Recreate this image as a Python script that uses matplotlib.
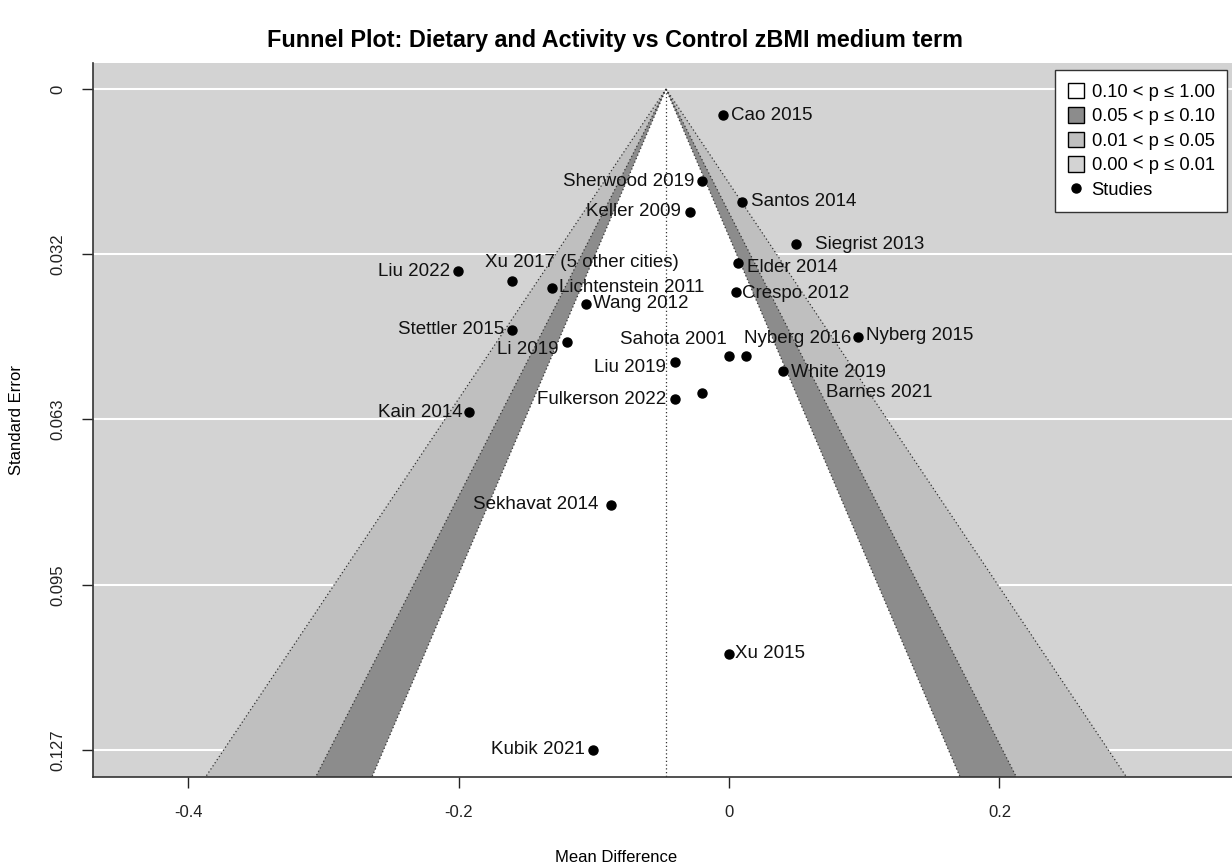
import numpy as np
import matplotlib.pyplot as plt
from matplotlib.patches import Patch
from matplotlib.lines import Line2D

plt.rcParams['font.family'] = ['Liberation Sans', 'DejaVu Sans']

# Study data
studies = ['Cao 2015', 'Sherwood 2019', 'Santos 2014', 'Keller 2009', 'Siegrist 2013',
           'Elder 2014', 'Liu 2022', 'Xu 2017 (5 other cities)', 'Lichtenstein 2011',
           'Crespo 2012', 'Wang 2012', 'Stettler 2015', 'Nyberg 2015', 'Li 2019',
           'Sahota 2001', 'Nyberg 2016', 'Liu 2019', 'White 2019', 'Barnes 2021',
           'Fulkerson 2022', 'Kain 2014', 'Sekhavat 2014', 'Xu 2015', 'Kubik 2021']
mean_diff = [-0.0044, -0.0200, 0.0096, -0.0288, 0.0496,
             0.0067, -0.2004, -0.1605, -0.1309,
             0.0052, -0.1058, -0.1605, 0.0954, -0.1198,
             0.0000, 0.0126, -0.0399, 0.0399, -0.0200,
             -0.0399, -0.1923, -0.0873, 0.0000, -0.1006]
std_err = [0.0050, 0.0177, 0.0217, 0.0236, 0.0298,
           0.0334, 0.0350, 0.0369, 0.0382,
           0.0390, 0.0413, 0.0463, 0.0476, 0.0486,
           0.0513, 0.0513, 0.0524, 0.0542, 0.0584,
           0.0596, 0.0621, 0.0799, 0.1085, 0.1270]
estimate = -0.0466
ytick_vals = [0, 0.03175, 0.0635, 0.09525, 0.127]
ytick_labels = ['0', '0.032', '0.063', '0.095', '0.127']
xtick_vals = [-0.4, -0.2, 0, 0.2]
xtick_labels = ['-0.4', '-0.2', '0', '0.2']

# label placement (offset in pixels, horizontal alignment)
label_pos = {
    'Cao 2015': (8, 0, 'left'), 'Sherwood 2019': (-8, 0, 'right'),
    'Santos 2014': (9, 0, 'left'), 'Keller 2009': (-9, 0, 'right'),
    'Siegrist 2013': (19, 0, 'left'), 'Elder 2014': (9, -5, 'left'),
    'Liu 2022': (-8, 0, 'right'), 'Xu 2017 (5 other cities)': (-27, 19, 'left'),
    'Lichtenstein 2011': (7, 0, 'left'), 'Crespo 2012': (6, -2, 'left'),
    'Wang 2012': (7, 0, 'left'), 'Stettler 2015': (-8, 0, 'right'),
    'Nyberg 2015': (8, 1, 'left'), 'Li 2019': (-9, -8, 'right'),
    'Sahota 2001': (-2, 16, 'right'), 'Nyberg 2016': (-2, 17, 'left'),
    'Liu 2019': (-9, -6, 'right'), 'White 2019': (8, -1, 'left'),
    'Barnes 2021': (124, 0, 'left'), 'Fulkerson 2022': (-9, 0, 'right'),
    'Kain 2014': (-6, 0, 'right'), 'Sekhavat 2014': (-13, 0, 'right'),
    'Xu 2015': (6, 0, 'left'), 'Kubik 2021': (-8, 0, 'right'),
}

fig = plt.figure(figsize=(12.32, 8.67), dpi=100)
ax = fig.add_axes([93 / 1232, 1 - 777 / 867, 1 - 93 / 1232, (777 - 63) / 867])
ax.set_facecolor('#d3d3d3')
ax.set_xlim(-0.4704, 0.372)
ax.set_ylim(0.1322, -0.0050)

for y in ytick_vals:
    ax.axhline(y, color='white', lw=1.5, zorder=0)

# contour regions around the summary estimate
se = np.linspace(0, 0.2, 50)
levels = [(2.576, '#bfbfbf'), (1.96, '#8c8c8c'), (1.645, 'white')]
for z, col in levels:
    ax.fill_betweenx(se, estimate - z * se, estimate + z * se, color=col, lw=0, zorder=1)
for z, col in levels:
    ax.plot(estimate - z * se, se, color='#333333', ls=(0, (1, 2)), lw=0.9, zorder=2)
    ax.plot(estimate + z * se, se, color='#333333', ls=(0, (1, 2)), lw=0.9, zorder=2)
ax.plot([estimate, estimate], [0, 0.2], color='#333333', ls=(0, (1, 2)), lw=0.9, zorder=2)

ax.plot(mean_diff, std_err, 'o', color='black', ms=6.5, zorder=4)
for name, x, y in zip(studies, mean_diff, std_err):
    dx, dy, ha = label_pos[name]
    ax.annotate(name, (x, y), xytext=(dx * 0.72, dy * 0.72), textcoords='offset points',
                ha=ha, va='center', fontsize=13.5, color='#111111', zorder=5)

ax.set_xticks(xtick_vals)
ax.set_xticklabels(xtick_labels, fontsize=12)
ax.set_yticks(ytick_vals)
ax.set_yticklabels(ytick_labels, fontsize=12, rotation=90, va='center')
ax.tick_params(length=8, width=1, colors='#222222', pad=12)
for side in ['top', 'right']:
    ax.spines[side].set_visible(False)
for side in ['left', 'bottom']:
    ax.spines[side].set_color('#333333')
    ax.spines[side].set_linewidth(1.2)

fig.text(17 / 1232, 1 - 420 / 867, 'Standard Error', rotation=90, ha='center', va='center', fontsize=12)
fig.text(616 / 1232, 1 - 857 / 867, 'Mean Difference', ha='center', va='center', fontsize=12)
fig.text(615 / 1232, 1 - 41 / 867, 'Funnel Plot: Dietary and Activity vs Control zBMI medium term',
         ha='center', va='center', fontsize=16.8, fontweight='bold')

handles = [Patch(facecolor='white', edgecolor='black', label='0.10 < p ≤ 1.00'),
           Patch(facecolor='#8c8c8c', edgecolor='black', label='0.05 < p ≤ 0.10'),
           Patch(facecolor='#bfbfbf', edgecolor='black', label='0.01 < p ≤ 0.05'),
           Patch(facecolor='#d3d3d3', edgecolor='black', label='0.00 < p ≤ 0.01'),
           Line2D([], [], marker='o', color='black', ls='', ms=6.5, label='Studies')]
leg = ax.legend(handles=handles, loc='upper right', bbox_to_anchor=(1227 / 1232, 1 - 7 / 714),
                bbox_transform=ax.transAxes, fontsize=13.2, frameon=True, fancybox=False,
                framealpha=1, handlelength=0.9, handleheight=0.9, handletextpad=0.4,
                labelspacing=0.36, borderpad=0.7, borderaxespad=0)
leg.get_frame().set_edgecolor('#333333')
leg.get_frame().set_linewidth(1)
leg.set_zorder(6)

plt.savefig('out.png', dpi=100)
